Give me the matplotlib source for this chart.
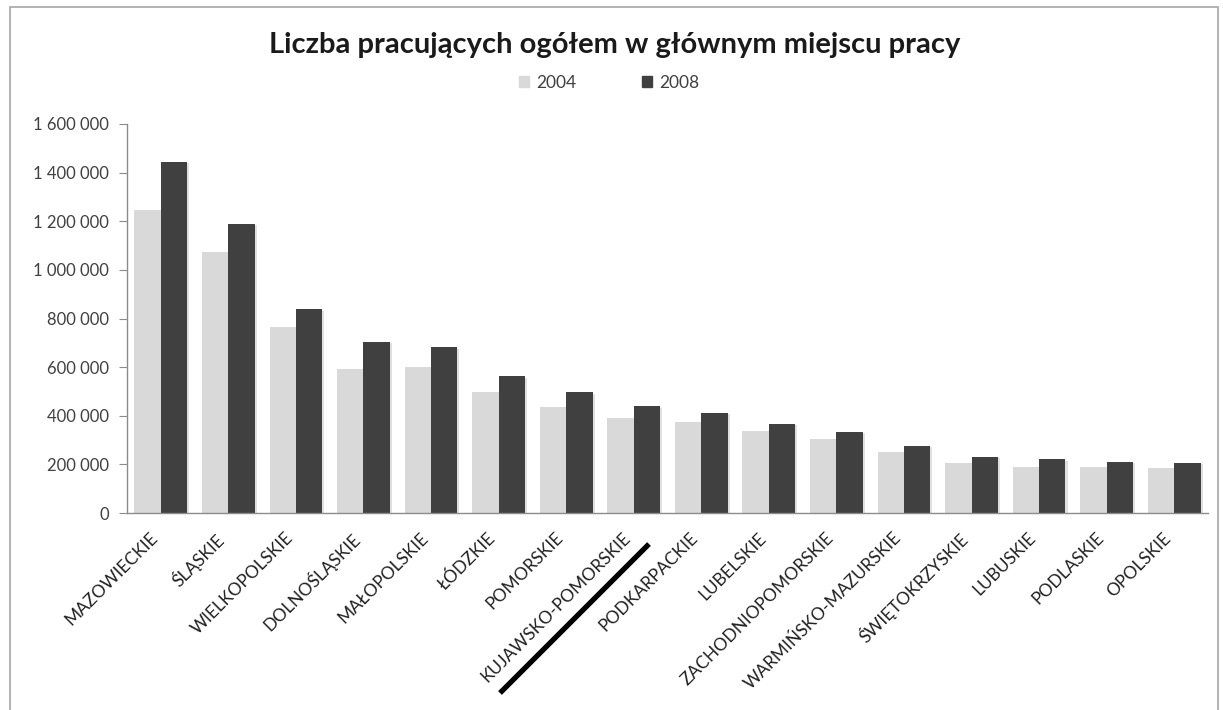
import matplotlib
matplotlib.use("Agg")
import numpy as np
import matplotlib.pyplot as plt
import matplotlib.patheffects as pe
from matplotlib.lines import Line2D
from matplotlib.patches import Rectangle, Patch
from matplotlib.ticker import FuncFormatter

plt.rcParams['font.family'] = ['Lato', 'DejaVu Sans']

# dane: liczba pracujących wg województw
regions = ['MAZOWIECKIE', 'ŚLĄSKIE', 'WIELKOPOLSKIE', 'DOLNOŚLĄSKIE', 'MAŁOPOLSKIE',
           'ŁÓDZKIE', 'POMORSKIE', 'KUJAWSKO-POMORSKIE', 'PODKARPACKIE', 'LUBELSKIE',
           'ZACHODNIOPOMORSKIE', 'WARMIŃSKO-MAZURSKIE', 'ŚWIĘTOKRZYSKIE', 'LUBUSKIE',
           'PODLASKIE', 'OPOLSKIE']
y2004 = [1248000, 1075000, 764000, 594000, 599000, 496000, 437000, 391000,
         376000, 339000, 303000, 251000, 204000, 189000, 189000, 185000]
y2008 = [1445000, 1190000, 838000, 704000, 681000, 562000, 496000, 439000,
         411000, 366000, 333000, 277000, 230000, 221000, 210000, 206000]
years = ['2004', '2008']
yticks = [0, 200000, 400000, 600000, 800000, 1000000, 1200000, 1400000, 1600000]

c_light = '#d9d9d9'
c_dark = '#404040'
txt_col = '#404040'
axis_col = '#8c8c8c'

fig = plt.figure(figsize=(12.23, 7.10), dpi=100)
ax = fig.add_axes([127 / 1223, 1 - 513 / 710, (1208 - 127) / 1223, (513 - 124) / 710])

x = np.arange(len(regions))
w = 0.39
shadow = [pe.SimplePatchShadow(offset=(1.5, -1.0), shadow_rgbFace='#000000', alpha=0.12), pe.Normal()]
ax.bar(x - w / 2, y2004, width=w, color=c_light, path_effects=shadow, zorder=2)
ax.bar(x + w / 2, y2008, width=w, color=c_dark, path_effects=shadow, zorder=2)

ax.set_xlim(-0.5, len(regions) - 0.5)
ax.set_ylim(0, 1600000)
ax.set_yticks(yticks)
ax.yaxis.set_major_formatter(FuncFormatter(lambda v, p: f'{int(v):,}'.replace(',', ' ')))

for s in ['top', 'right']:
    ax.spines[s].set_visible(False)
for s in ['left', 'bottom']:
    ax.spines[s].set_color(axis_col)
    ax.spines[s].set_linewidth(1.0)

ax.tick_params(axis='y', length=6, color=axis_col, labelsize=12, labelcolor=txt_col, pad=7)
ax.set_xticks(x)
ax.set_xticklabels(regions, rotation=45, ha='right', va='top', fontsize=12.5, color='#202020')
ax.tick_params(axis='x', length=0, pad=12)

fig.text(0.503, 0.937, 'Liczba pracujących ogółem w głównym miejscu pracy',
         ha='center', va='center', fontsize=21, fontweight='bold', color='#1a1a1a')

handles = [Patch(color=c_light), Patch(color=c_dark)]
fig.legend(handles=handles, labels=years, loc='center', bbox_to_anchor=(0.498, 0.883),
           ncol=2, frameon=False, fontsize=12.5, handlelength=0.6, handleheight=0.6,
           handletextpad=0.4, columnspacing=3.8, labelcolor=txt_col)

# ramka obszaru wykresu
fig.add_artist(Rectangle((10 / 1223, -0.1), (1218 - 10) / 1223, 1.1 - 7 / 710,
                         transform=fig.transFigure, fill=False, edgecolor='#a6a6a6', lw=1.2))

# podkreślenie KUJAWSKO-POMORSKIE
fig.add_artist(Line2D([500 / 1223, 649 / 1223], [1 - 693 / 710, 1 - 544 / 710],
                      transform=fig.transFigure, color='black', lw=3.8, solid_capstyle='butt'))

fig.savefig('out.png', dpi=100, facecolor='white')
